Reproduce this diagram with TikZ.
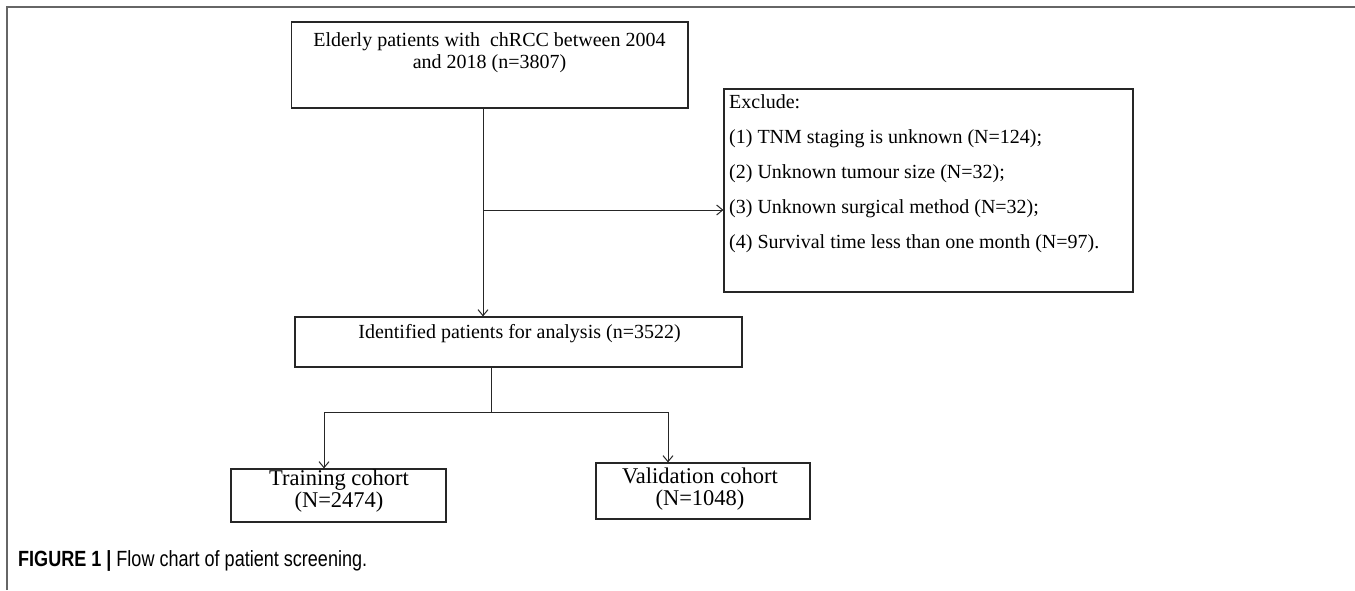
\documentclass[tikz,border=0pt]{standalone}
\usepackage{fontspec}
\setmainfont{Liberation Serif}
\newfontfamily\capfont{Liberation Sans}
\usetikzlibrary{arrows.meta}
\tikzset{
  boxnode/.style={draw=black!85, line width=1.2pt, inner sep=0pt, fill=none},
  txt/.style={inner sep=0pt, align=center, font=\fontsize{20}{22}\selectfont},
  bigtxt/.style={inner sep=0pt, align=center, font=\fontsize{22.5}{21.5}\selectfont},
  exctxt/.style={inner sep=0pt, align=left, anchor=north west, font=\fontsize{20}{35}\selectfont},
  conn/.style={draw=black!85, line width=1pt},
  arr/.style={conn, -{Straight Barb[length=6pt,width=10pt]}},
  framel/.style={draw=black!60, line width=2pt}
}
\begin{document}
\begin{tikzpicture}[x=1pt,y=-1pt]
\useasboundingbox (0,0) rectangle (1355,590);
% frame
\draw[framel] (7,590) -- (7,6.5) -- (1355,6.5);
% boxes
\node[boxnode, minimum width=396.5pt, minimum height=86pt] (topbox) at (489.75,65) {};
\node[boxnode, minimum width=409pt, minimum height=203pt] (exbox) at (928.5,190.5) {};
\node[boxnode, minimum width=447pt, minimum height=50pt] (idbox) at (518.5,342) {};
\node[boxnode, minimum width=215pt, minimum height=53pt] (trbox) at (338.5,495.5) {};
\node[boxnode, minimum width=214pt, minimum height=56pt] (vabox) at (703,491) {};
% texts
\node[txt] (toptext) at (489.5,53) {Elderly patients with \ chRCC between 2004\\and 2018 (n=3807)};
\node[exctxt] (exctext) at (729,94) {Exclude:\\(1) TNM staging is unknown (N=124);\\(2) Unknown tumour size (N=32);\\(3) Unknown surgical method (N=32);\\(4) Survival time less than one month (N=97).};
\node[txt] (idtext) at (519.5,334) {Identified patients for analysis (n=3522)};
\node[bigtxt] (trtext) at (339,491) {Training cohort\\(N=2474)};
\node[bigtxt] (vatext) at (700,489) {Validation cohort\\(N=1048)};
% connectors
\coordinate (j1) at (483,210);
\coordinate (j2) at (491,412);
\coordinate (tl) at (324,412);
\coordinate (tr) at (668,412);
\draw[conn] (topbox.south -| j1) -- (j1);
\draw[arr] (j1) -- (idbox.north -| j1);
\draw[arr] (j1) -- (exbox.west |- j1);
\draw[conn] (idbox.south -| j2) -- (j2);
\draw[conn] (tl) -- (tr);
\draw[arr] (tl) -- (trbox.north -| tl);
\draw[arr] (tr) -- (vabox.north -| tr);
% caption
\node[inner sep=0pt, anchor=west, font=\capfont\fontsize{22}{24}\selectfont] (cap) at (18,561) {\scalebox{0.82}[1]{\textbf{FIGURE 1} \textbf{|} Flow chart of patient screening.}};
\end{tikzpicture}
\end{document}
